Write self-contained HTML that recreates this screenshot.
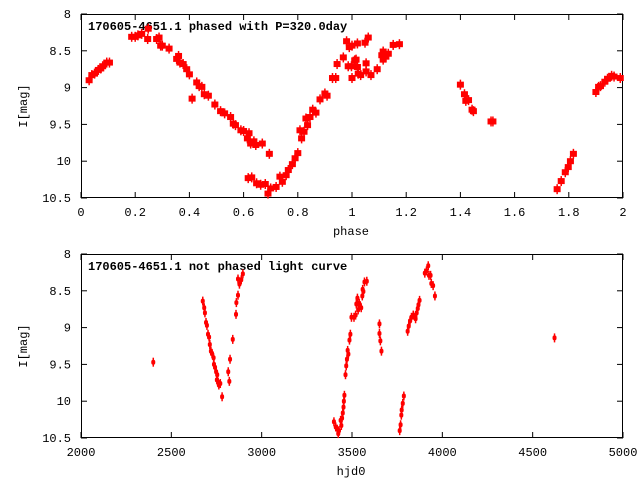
<!DOCTYPE html>
<html><head><meta charset="utf-8"><style>
body{margin:0;background:#fff;}
svg text{font-family:"Liberation Mono","DejaVu Sans Mono",monospace;font-size:12px;fill:#000;}
</style></head><body>
<svg id="c" width="640" height="480" xmlns="http://www.w3.org/2000/svg"></svg>
<script>
const phaseX=[.03,.04,.05,.064,.073,.08,.095,.105,.187,.2,.21,.224,.248,.246,.279,.288,.294,.30,.325,.353,.36,.365,.377,.39,.40,.41,.427,.436,.446,.455,.47,.494,.515,.53,.552,.562,.57,.59,.60,.614,.62,.626,.638,.645,.669,.695,.617,.63,.648,.663,.68,.69,.70,.72,.734,.743,.757,.765,.78,.79,.80,.808,.814,.823,.83,.836,.845,.855,.867,.882,.90,.908,.928,.94,.945,.968,.98,.99,1.0,1.02,.986,1.0,1.015,1.02,1.023,1.048,1.06,.998,1.01,1.032,1.052,1.052,1.07,1.093,1.11,1.115,1.115,1.125,1.134,1.152,1.175,1.40,1.415,1.42,1.43,1.443,1.448,1.513,1.52,1.757,1.772,1.787,1.798,1.806,1.817,1.90,1.91,1.917,1.933,1.943,1.958,1.967,1.99];
const phaseMag=[8.90,8.83,8.81,8.76,8.74,8.71,8.66,8.66,8.31,8.31,8.29,8.27,8.20,8.34,8.34,8.32,8.43,8.43,8.47,8.61,8.57,8.66,8.68,8.75,8.82,9.15,8.93,8.98,8.99,9.09,9.11,9.23,9.32,9.35,9.40,9.49,9.51,9.58,9.59,9.69,9.62,9.76,9.73,9.78,9.76,9.90,10.23,10.22,10.30,10.32,10.31,10.44,10.37,10.35,10.21,10.28,10.19,10.12,10.04,9.96,9.89,9.58,9.69,9.60,9.42,9.51,9.40,9.30,9.34,9.16,9.08,9.11,8.87,8.87,8.68,8.59,8.37,8.45,8.43,8.40,8.71,8.87,8.62,8.72,8.81,8.39,8.32,8.71,8.63,8.83,8.67,8.78,8.83,8.75,8.56,8.51,8.62,8.58,8.54,8.42,8.41,8.96,9.09,9.18,9.17,9.30,9.32,9.46,9.46,10.38,10.27,10.15,10.08,10.00,9.90,9.06,8.99,8.98,8.92,8.88,8.84,8.85,8.87];
const hjdX=[2400,2674,2682,2686,2692,2697,2703,2709,2713,2719,2725,2734,2736,2742,2748,2754,2752,2759,2763,2771,2781,2815,2821,2825,2840,2858,2860,2869,2869,2877,2887,2896,3400,3410,3418,3424,3428,3437,3441,3445,3449,3453,3455,3458,3464,3468,3472,3476,3480,3486,3491,3497,3511,3520,3524,3530,3534,3540,3551,3557,3559,3563,3569,3582,3652,3652,3657,3663,3764,3769,3773,3775,3781,3787,3808,3814,3821,3829,3839,3852,3858,3864,3868,3874,3903,3912,3922,3926,3935,3939,3949,3959,4621];
const hjdMag=[9.47,8.64,8.73,8.80,8.93,8.97,9.09,9.13,9.23,9.32,9.35,9.41,9.50,9.54,9.60,9.64,9.71,9.74,9.78,9.76,9.94,9.60,9.73,9.43,9.16,8.82,8.66,8.56,8.34,8.41,8.35,8.27,10.28,10.35,10.38,10.44,10.40,10.26,10.33,10.23,10.16,10.08,10.00,9.92,9.64,9.52,9.43,9.31,9.36,9.17,9.09,8.86,8.86,8.83,8.68,8.60,8.76,8.67,8.73,8.57,8.48,8.51,8.38,8.37,8.95,9.08,9.18,9.32,10.40,10.32,10.19,10.12,10.03,9.93,9.05,8.98,8.91,8.86,8.83,8.88,8.80,8.74,8.69,8.63,8.26,8.23,8.16,8.29,8.29,8.40,8.43,8.57,9.14];
const topXTicks=["0","0.2","0.4","0.6","0.8","1","1.2","1.4","1.6","1.8","2"];
const botXTicks=["2000","2500","3000","3500","4000","4500","5000"];
const yTicks=["8","8.5","9","9.5","10","10.5"];

const svg=document.getElementById('c');
const NS='http://www.w3.org/2000/svg';
function mk(t,a,p){const e=document.createElementNS(NS,t);for(const k in a)e.setAttribute(k,a[k]);(p||svg).appendChild(e);return e;}
function panel(y0,xmin,xmax,xt,xs,title,xlabel,X,Y,pw,ph,name){
  const L=81,R=623,T=y0,B=y0+184;
  const g=mk('g',{});
  
  
  const sx=v=>L+(v-xmin)/(xmax-xmin)*(R-L);
  const sy=v=>T+(v-8)/2.5*(B-T);
  const ax=mk('g',{stroke:'#000','stroke-width':1},g);
  
  
  xt.forEach((l,i)=>{const v=xmin+i*xs,x=sx(v);
    mk('line',{x1:x,x2:x,y1:B,y2:B-6},ax);mk('line',{x1:x,x2:x,y1:T,y2:T+6},ax);
    const t=mk('text',{x:x,y:B+18,'text-anchor':'middle'},g);t.textContent=l;
    });
  yTicks.forEach((l,i)=>{const y=sy(8+i*0.5);
    mk('line',{x1:L,x2:L+6,y1:y,y2:y},ax);mk('line',{x1:R,x2:R-6,y1:y,y2:y},ax);
    const t=mk('text',{x:71,y:y+4,'text-anchor':'end'},g);t.textContent=l;
    });
  const fr=mk('rect',{x:L+.5,y:T+.5,width:R-L-1,height:B-T-1,fill:'none',stroke:'#000'},g);
  
  const tt=mk('text',{x:88,y:T+16,'font-weight':'bold'},g);tt.textContent=title;
  
  const xl=mk('text',{x:351,y:B+37,'text-anchor':'middle'},g);xl.textContent=xlabel;
  
  const yl=mk('text',{x:0,y:0,'text-anchor':'middle',transform:`translate(27,${(T+B)/2}) rotate(-90)`},g);yl.textContent='I[mag]';
  
  const pts=mk('g',{fill:'#f00'},g);
  
  X.forEach((v,i)=>{const x=sx(v),y=sy(Y[i]);
    const r=mk('rect',{x:x-pw/2,y:y-ph/2,width:pw,height:ph,rx:pw<6?2:0},pts);
    
    mk('rect',{x:x-0.75,y:y-ph/2-2,width:1.5,height:ph+4},pts);});
}
panel(14,0,2,topXTicks,0.2,'170605-4651.1 phased with P=320.0day','phase',phaseX,phaseMag,7,6,'phased-panel');
panel(254,2000,5000,botXTicks,500,'170605-4651.1 not phased light curve','hjd0',hjdX,hjdMag,4,5,'unphased-panel');
</script>
</body></html>
